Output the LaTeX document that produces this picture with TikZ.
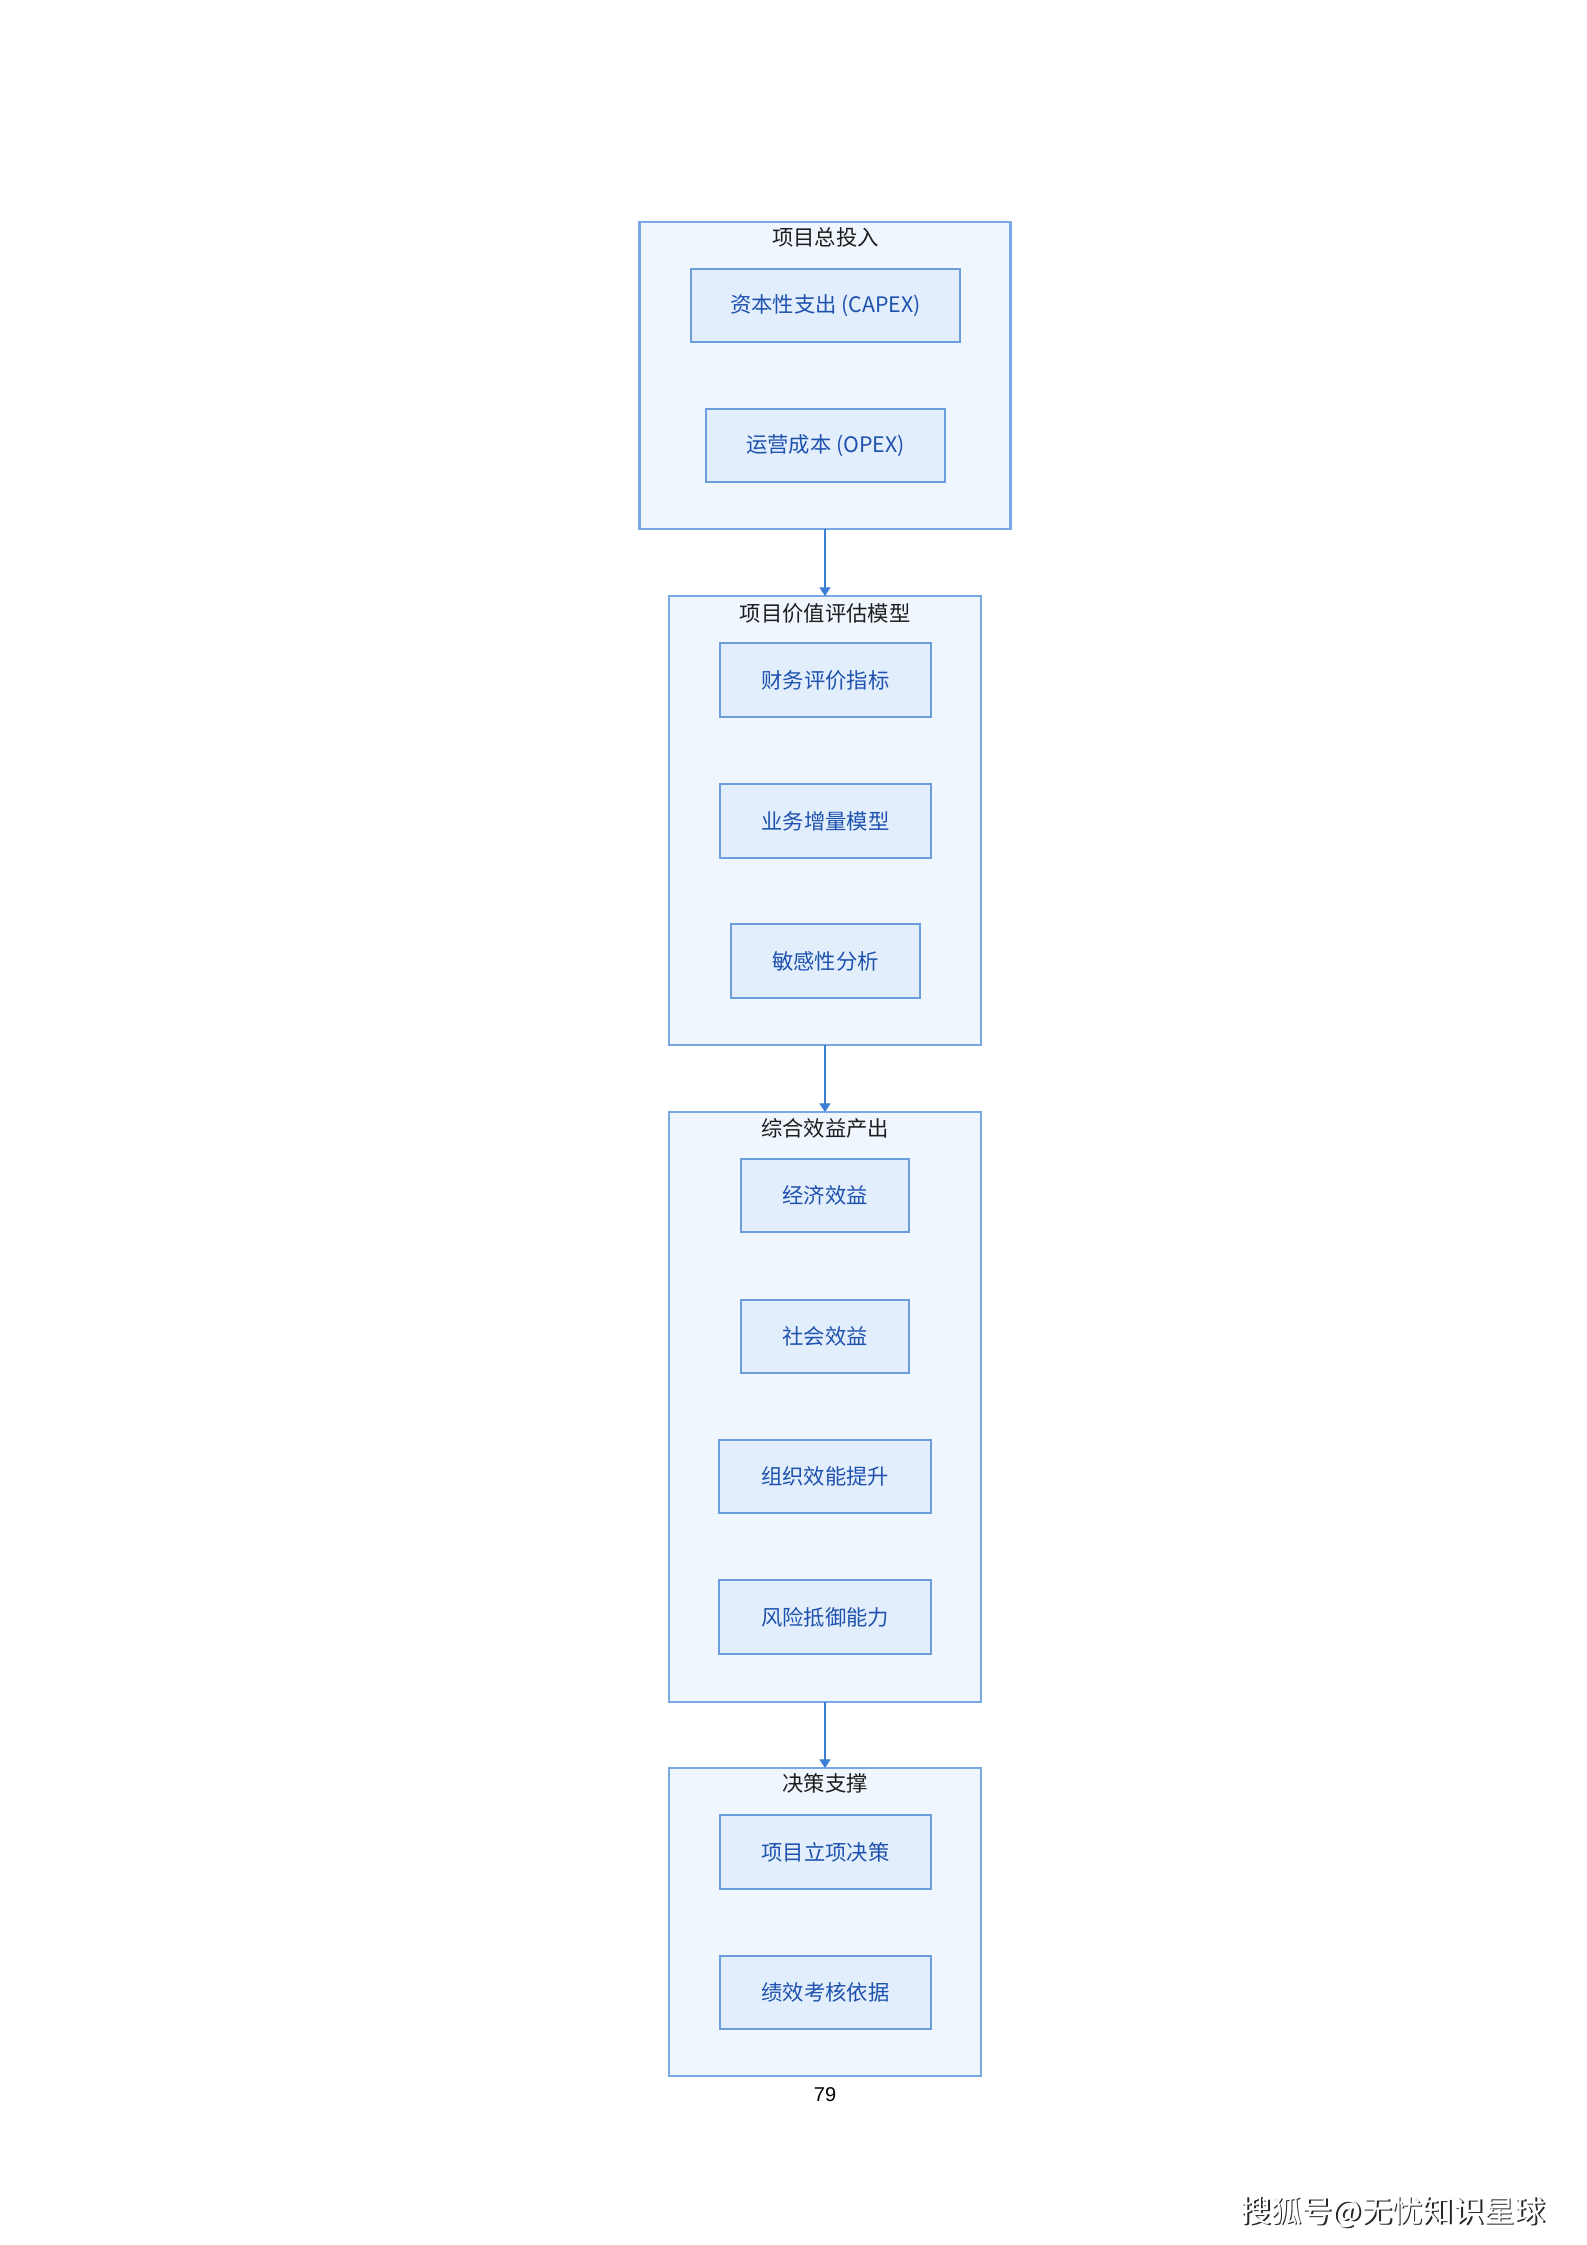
\documentclass[tikz,border=0pt]{standalone}
\usepackage{fontspec}
\setmainfont{Noto Sans CJK SC}
\newfontfamily\numfont{Liberation Sans}
\usetikzlibrary{arrows.meta}
\definecolor{outerfill}{HTML}{EFF6FD}
\definecolor{outerline}{HTML}{7AA8E4}
\definecolor{innerfill}{HTML}{E2EEFB}
\definecolor{innerline}{HTML}{6C9EDD}
\definecolor{innertext}{HTML}{1F52AE}
\definecolor{arrowcol}{HTML}{3A7FD5}
\definecolor{titletext}{HTML}{1E1E1E}
\tikzset{
  outerbox/.style={draw=outerline, fill=outerfill, line width=0.8pt, inner sep=0pt, outer sep=0pt, minimum width=117pt},
  innerbox/.style={draw=innerline, fill=innerfill, line width=0.8pt, inner sep=0pt, outer sep=0pt, minimum height=27.5pt, text=innertext, font=\fontsize{8pt}{10pt}\selectfont},
  titlelabel/.style={text=titletext, inner sep=0pt, font=\fontsize{8pt}{10pt}\selectfont},
  flowarrow/.style={draw=arrowcol, line width=0.8pt, -{Triangle[length=3.2pt,width=4pt]}}
}
\begin{document}
\begin{tikzpicture}[x=0.375pt,y=-0.375pt]
\path[use as bounding box, fill=white] (0,0) rectangle (1587,2245);

% Group 1
\node[outerbox, minimum width=139.125pt, minimum height=115.125pt] (g1) at (825,375.5) {};
\node[titlelabel] (t1) at (825.5,237) {项目总投入};
\node[innerbox, minimum width=100.875pt] (capex) at (825.5,305.5) {资本性支出 (CAPEX)};
\node[innerbox, minimum width=89.625pt] (opex) at (825.5,445.5) {运营成本 (OPEX)};

% Group 2
\node[outerbox, minimum height=168.375pt] (g2) at (825,820.5) {};
\node[titlelabel] (t2) at (825,613) {项目价值评估模型};
\node[innerbox, minimum width=79.125pt] (fin) at (825.5,680) {财务评价指标};
\node[innerbox, minimum width=79.125pt] (biz) at (825.5,821) {业务增量模型};
\node[innerbox, minimum width=70.875pt] (sens) at (825.5,961) {敏感性分析};

% Group 3
\node[outerbox, minimum height=221.25pt] (g3) at (825,1407) {};
\node[titlelabel] (t3) at (825,1128) {综合效益产出};
\node[innerbox, minimum width=63pt] (econ) at (825,1195.5) {经济效益};
\node[innerbox, minimum width=63pt] (soc) at (825,1336.5) {社会效益};
\node[innerbox, minimum width=79.5pt] (org) at (825,1476.5) {组织效能提升};
\node[innerbox, minimum width=79.5pt] (risk) at (825,1617) {风险抵御能力};

% Group 4
\node[outerbox, minimum height=115.5pt] (g4) at (825,1922) {};
\node[titlelabel] (t4) at (825,1783) {决策支撑};
\node[innerbox, minimum width=79.125pt] (proj) at (825.5,1852) {项目立项决策};
\node[innerbox, minimum width=79.125pt] (perf) at (825.5,1992.5) {绩效考核依据};

% Connectors
\draw[flowarrow] (g1.south) -- (g2.north);
\draw[flowarrow] (g2.south) -- (g3.north);
\draw[flowarrow] (g3.south) -- (g4.north);

% Page number
\node[inner sep=0pt, font=\numfont\fontsize{7.5pt}{9pt}\selectfont] (pnum) at (825,2095) {79};

% Source mark
\node[inner sep=0pt, text=black!85, font=\fontsize{11.5pt}{13pt}\selectfont] (sohushadow) at (1394.5,2213.5) {搜狐号@无忧知识星球};
\node[inner sep=0pt, text=white, font=\fontsize{11.5pt}{13pt}\selectfont] (sohu) at (1393,2212) {搜狐号@无忧知识星球};
\end{tikzpicture}
\end{document}
